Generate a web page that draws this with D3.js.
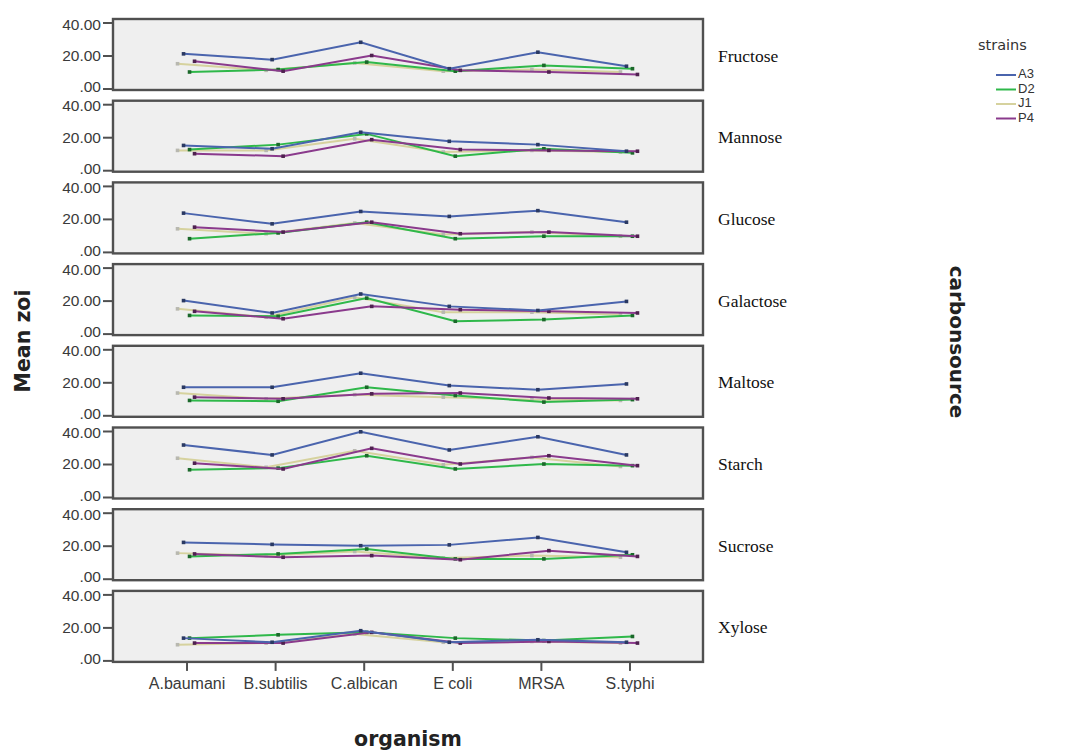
<!DOCTYPE html>
<html>
<head>
<meta charset="utf-8">
<script src="https://cdn.jsdelivr.net/npm/d3@7"></script>
<style>
  html, body { margin: 0; padding: 0; background: #fff; }
  svg { display: block; }
</style>
</head>
<body>
<svg id="chart" width="1067" height="751"></svg>
<script>
// Categories
const organisms = ["A.baumani", "B.subtilis", "C.albican", "E coli", "MRSA", "S.typhi"];
const strains = ["A3", "D2", "J1", "P4"];
const carbonSources = ["Fructose", "Mannose", "Glucose", "Galactose", "Maltose", "Starch", "Sucrose", "Xylose"];
const yTicks = [0, 20, 40];

// Mean zone of inhibition per carbon source; rows follow `strains`, columns follow `organisms`
const fructose = [
  [21, 17.5, 28, 12, 22, 13.5],
  [10, 11.5, 16, 10.5, 14, 12],
  [15, 11, 15.5, 10.5, 11.5, 10],
  [16.5, 10.5, 20, 11, 10, 8.5]
];
const mannose = [
  [15, 13, 23, 17.5, 15.5, 11.5],
  [12.5, 15.5, 22, 8.5, 13, 10.5],
  [12, 12, 19, 11, 12, 11],
  [10, 8.5, 18.5, 12.5, 12, 11.5]
];
const glucose = [
  [23.5, 17, 24.5, 21.5, 25, 18],
  [8, 11.5, 18, 8, 9.5, 9.5],
  [14, 11, 17.5, 10.5, 12, 9.5],
  [15, 12, 18, 11, 12, 9.5]
];
const galactose = [
  [20, 12.5, 24, 16.5, 14, 19.5],
  [11, 10.5, 21.5, 7.5, 8.5, 11],
  [15, 10, 22, 13, 13, 11.5],
  [13.5, 9, 16.5, 14.5, 13.5, 12.5]
];
const maltose = [
  [17, 17, 25.5, 18, 15.5, 19],
  [9, 8.5, 17, 12, 8, 9.5],
  [13.5, 10, 12.5, 11, 9.5, 9],
  [11, 10, 13, 13.5, 10.5, 10]
];
const starch = [
  [31.5, 25.5, 39.5, 28.5, 36.5, 25.5],
  [16.5, 17.5, 25, 17, 20, 19],
  [23.5, 18, 28, 19.5, 24, 18.5],
  [20.5, 17, 29.5, 20, 25, 19]
];
const sucrose = [
  [22, 20.8, 20, 20.5, 25, 16],
  [13.5, 15, 18, 12, 12, 14.5],
  [15.5, 14, 16.5, 12.5, 14, 13],
  [15, 13, 14, 11.5, 17, 13.5]
];
const xylose = [
  [13.5, 11, 18, 11, 12.5, 11],
  [13.5, 15.5, 17, 13.5, 12, 14.5],
  [9.5, 10.5, 16, 11, 11.5, 10.5],
  [10.5, 10.5, 17, 10.5, 11.5, 10.5]
];
const panelValues = [fructose, mannose, glucose, galactose, maltose, starch, sucrose, xylose];

const strainColors = ["#4a64ad", "#2fb84a", "#d6d29e", "#8a3a8c"];
// Small horizontal offsets keep the strains' markers apart at each organism
const strainDodge = [-3, 3, -9, 8];
const drawOrder = [2, 1, 3, 0];

const svg = d3.select("#chart");

const plotLeft = 113, plotRight = 703;
const panelTop0 = 19, panelPitch = 81.7, panelHeight = 71;

const x = d3.scalePoint().domain(organisms).range([plotLeft, plotRight]).padding(0.83);
const color = d3.scaleOrdinal().domain(strains).range(strainColors);
const dodge = d3.scaleOrdinal().domain(strains).range(strainDodge);

const tickFmt = d => d === 0 ? ".00" : d3.format(".2f")(d);
const sansFont = "'Liberation Sans', Arial, sans-serif";
const titleFont = "'DejaVu Sans', Verdana, sans-serif";

carbonSources.forEach((src, i) => {
  const top = panelTop0 + i * panelPitch;
  const y = d3.scaleLinear().domain([0, 40]).range([top + panelHeight - 1.5, top + 3.5]);
  const g = svg.append("g").attr("class", "panel");

  g.append("rect")
    .attr("x", plotLeft).attr("y", top)
    .attr("width", plotRight - plotLeft).attr("height", panelHeight)
    .attr("fill", "#efefef")
    .attr("stroke", "#505050").attr("stroke-width", 2.4);

  // y axis
  const yAxis = g.append("g")
    .attr("transform", `translate(${plotLeft - 1},0)`)
    .call(d3.axisLeft(y).tickValues(yTicks).tickFormat(tickFmt).tickSize(9).tickPadding(2));
  yAxis.select(".domain").remove();
  yAxis.selectAll(".tick line").attr("stroke", "#505050").attr("stroke-width", 2);
  // the end labels of stacked panels sit close together; nudge them apart slightly
  yAxis.selectAll(".tick text")
    .attr("fill", "#3a3a3a")
    .attr("dy", d => d === 0 ? "0.2em" : d === 40 ? "0.42em" : "0.32em")
    .style("font-family", sansFont)
    .style("font-size", "15.5px");

  // strain lines and markers
  const vals = panelValues[i];
  const line = d3.line()
    .x(d => x(d.org) + dodge(d.strain))
    .y(d => y(d.v));

  drawOrder.forEach(si => {
    const s = strains[si];
    const pts = organisms.map((o, k) => ({ org: o, strain: s, v: vals[si][k] }));
    g.append("path")
      .datum(pts)
      .attr("d", line)
      .attr("fill", "none")
      .attr("stroke", color(s))
      .attr("stroke-width", 2);
    g.selectAll(null)
      .data(pts)
      .join("rect")
      .attr("x", d => x(d.org) + dodge(d.strain) - 1.8)
      .attr("y", d => y(d.v) - 1.8)
      .attr("width", 3.6).attr("height", 3.6)
      .attr("fill", s === "J1" ? "#b8b8b0" : d3.color(color(s)).darker(1.6));
  });

  // facet label
  g.append("text")
    .attr("x", 718)
    .attr("y", top + panelHeight / 2 + 3)
    .attr("dominant-baseline", "middle")
    .style("font-family", "'Liberation Serif', 'Times New Roman', serif")
    .style("font-size", "17.5px")
    .attr("fill", "#111")
    .text(src);

  // x axis under the last panel
  if (i === carbonSources.length - 1) {
    const xAxis = svg.append("g")
      .attr("transform", `translate(0,${top + panelHeight + 1})`)
      .call(d3.axisBottom(x).tickSize(8).tickPadding(7));
    xAxis.select(".domain").remove();
    xAxis.selectAll(".tick line").attr("stroke", "#505050").attr("stroke-width", 2);
    xAxis.selectAll(".tick text")
      .attr("fill", "#3a3a3a")
      .style("font-family", sansFont)
      .style("font-size", "16px");
  }
});

// axis titles
svg.append("text")
  .attr("transform", "translate(30,341) rotate(-90)")
  .attr("text-anchor", "middle")
  .style("font-family", titleFont)
  .style("font-weight", "bold")
  .style("font-size", "20.5px")
  .attr("fill", "#222")
  .text("Mean zoi");

svg.append("text")
  .attr("x", 408).attr("y", 746)
  .attr("text-anchor", "middle")
  .style("font-family", titleFont)
  .style("font-weight", "bold")
  .style("font-size", "20.5px")
  .attr("fill", "#222")
  .text("organism");

svg.append("text")
  .attr("transform", "translate(950,342) rotate(90)")
  .attr("text-anchor", "middle")
  .style("font-family", titleFont)
  .style("font-weight", "bold")
  .style("font-size", "20px")
  .attr("fill", "#222")
  .text("carbonsource");

// legend
const legend = svg.append("g").attr("transform", "translate(996,0)");
legend.append("text")
  .attr("x", -18).attr("y", 50)
  .style("font-family", titleFont)
  .style("font-size", "14.5px")
  .attr("fill", "#333")
  .text("strains");
strains.forEach((s, k) => {
  const ly = 75 + k * 14.5;
  legend.append("line")
    .attr("x1", 0).attr("x2", 20)
    .attr("y1", ly).attr("y2", ly)
    .attr("stroke", color(s)).attr("stroke-width", 2);
  legend.append("text")
    .attr("x", 22).attr("y", ly)
    .attr("dominant-baseline", "middle")
    .style("font-family", sansFont)
    .style("font-size", "13px")
    .attr("fill", "#333")
    .text(s);
});
</script>
</body>
</html>
